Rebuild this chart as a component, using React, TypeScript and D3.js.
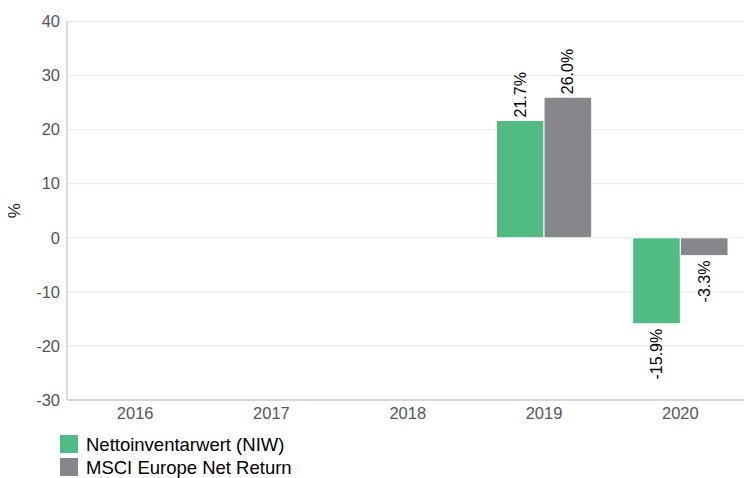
import * as d3 from 'd3';

const years = ['2016', '2017', '2018', '2019', '2020'];
const niwValues: (number | null)[] = [null, null, null, 21.7, -15.9];
const msciValues: (number | null)[] = [null, null, null, 26.0, -3.3];
const seriesNames = ['Nettoinventarwert (NIW)', 'MSCI Europe Net Return'];
const seriesColors = ['#50bc84', '#86878b'];
const yTicks = [-30, -20, -10, 0, 10, 20, 30, 40];

const width = 744;
const height = 478;
const margin = { top: 21.5, right: -4.5, bottom: 78, left: 67 };

function App() {
  const x = d3
    .scaleBand<string>()
    .domain(years)
    .range([margin.left, width - margin.right]);

  const inner = d3
    .scaleBand<number>()
    .domain([0, 1])
    .range([0, x.bandwidth()])
    .paddingOuter(0.43)
    .paddingInner(0);

  const y = d3
    .scaleLinear()
    .domain([-30, 40])
    .range([height - margin.bottom, margin.top]);

  const series = [niwValues, msciValues];
  const font = '"Liberation Sans", Arial, sans-serif';

  return (
    <svg
      width={width}
      height={height}
      style={{ position: 'absolute', left: 0, top: 0, fontFamily: font }}
    >
      <rect width={width} height={height} fill="#fff" />
      {yTicks.map((t) => (
        <g key={t}>
          <line
            x1={margin.left}
            x2={width}
            y1={y(t)}
            y2={y(t)}
            stroke="#e6e6e6"
            strokeWidth={1}
          />
          <text x={60} y={y(t)} dy="0.35em" textAnchor="end" fontSize={16.5} fill="#555">
            {t}
          </text>
        </g>
      ))}
      <line x1={margin.left} x2={margin.left} y1={margin.top} y2={y(-30)} stroke="#bbb" />
      <line x1={margin.left} x2={width} y1={y(-30)} y2={y(-30)} stroke="#bbb" />
      {years.map((yr) => (
        <text
          key={yr}
          x={(x(yr) ?? 0) + x.bandwidth() / 2}
          y={419}
          textAnchor="middle"
          fontSize={16.5}
          fill="#555"
        >
          {yr}
        </text>
      ))}
      <text
        transform={`translate(20,${y(5)}) rotate(-90)`}
        textAnchor="middle"
        fontSize={17}
        fill="#222"
      >
        %
      </text>
      {series.map((vals, si) =>
        vals.map((v, i) => {
          if (v === null) return null;
          const bx = (x(years[i]) ?? 0) + (inner(si) ?? 0);
          const bw = inner.bandwidth();
          const top = y(Math.max(0, v));
          const bottom = y(Math.min(0, v));
          const cx = bx + bw / 2;
          const ly = v >= 0 ? top - 3 : bottom + 5;
          return (
            <g key={`${si}-${i}`}>
              <rect
                x={bx}
                y={top}
                width={bw}
                height={bottom - top}
                fill={seriesColors[si]}
                stroke="#fff"
                strokeWidth={1}
              />
              <text
                transform={`translate(${cx},${ly}) rotate(-90)`}
                textAnchor={v >= 0 ? 'start' : 'end'}
                dy="0.35em"
                fontSize={16}
                fill="#000"
              >
                {`${v.toFixed(1)}%`}
              </text>
            </g>
          );
        })
      )}
      {seriesNames.map((name, si) => (
        <g key={name} transform={`translate(60,${435 + si * 23})`}>
          <rect width={18} height={18} fill={seriesColors[si]} />
          <text x={26} y={15.5} fontSize={18.5} fill="#000">
            {name}
          </text>
        </g>
      ))}
    </svg>
  );
}

export default App;
